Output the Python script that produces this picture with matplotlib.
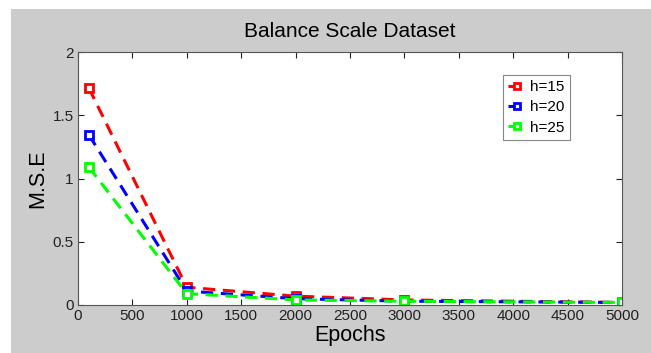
import matplotlib.pyplot as plt
from matplotlib.patches import Rectangle

plt.rcParams['font.family'] = ['Liberation Sans', 'DejaVu Sans']

# Data
epochs = [100, 1000, 2000, 3000, 5000]
mse_h15 = [1.715, 0.14, 0.07, 0.04, 0.02]
mse_h20 = [1.345, 0.11, 0.05, 0.03, 0.02]
mse_h25 = [1.09, 0.09, 0.04, 0.03, 0.02]
labels = ['h=15', 'h=20', 'h=25']
colors = ['#ff0000', '#0000ff', '#00ff00']

fig = plt.figure(figsize=(6.51, 3.53), dpi=100)
fig.patch.set_facecolor('#cccccc')
# white margin strips (left and top) as in the screenshot
fig.patches.append(Rectangle((0, 0), 11 / 651, 1, transform=fig.transFigure,
                             facecolor='white', edgecolor='none', zorder=-1))
fig.patches.append(Rectangle((0, 1 - 9 / 353), 1, 9 / 353, transform=fig.transFigure,
                             facecolor='white', edgecolor='none', zorder=-1))

ax = fig.add_axes([78 / 651, 48 / 353, 544 / 651, 253 / 353])
ax.set_facecolor('white')

for y, lab, c in zip([mse_h15, mse_h20, mse_h25], labels, colors):
    ax.plot(epochs, y, linestyle='--', color=c, linewidth=2.2, marker='s',
            markersize=6, markerfacecolor='white', markeredgecolor=c,
            markeredgewidth=2, dashes=(4, 2.5), label=lab)

ax.set_xlim(0, 5000)
ax.set_ylim(0, 2)
ax.set_xticks(range(0, 5001, 500))
ax.set_yticks([0, 0.5, 1, 1.5, 2])
ax.set_yticklabels(['0', '0.5', '1', '1.5', '2'])
ax.tick_params(direction='in', top=True, right=True, labelsize=11,
               colors='#222222', length=4, width=0.8, pad=3)
for s in ax.spines.values():
    s.set_color('#555555')
    s.set_linewidth(0.8)

ax.set_title('Balance Scale Dataset', fontsize=15, pad=11)
ax.set_xlabel('Epochs', fontsize=15.5, labelpad=1)
ax.set_ylabel('M.S.E', fontsize=15.5, labelpad=3)

leg = ax.legend(loc='upper left', bbox_to_anchor=(0.781, 0.909), fontsize=11,
                fancybox=False, framealpha=1, edgecolor='#888888',
                handlelength=1.1, handletextpad=0.35, borderpad=0.35,
                labelspacing=0.4, borderaxespad=0, markerscale=0.8)
leg.get_frame().set_linewidth(0.8)

fig.savefig('out.png', dpi=100, facecolor=fig.get_facecolor())
